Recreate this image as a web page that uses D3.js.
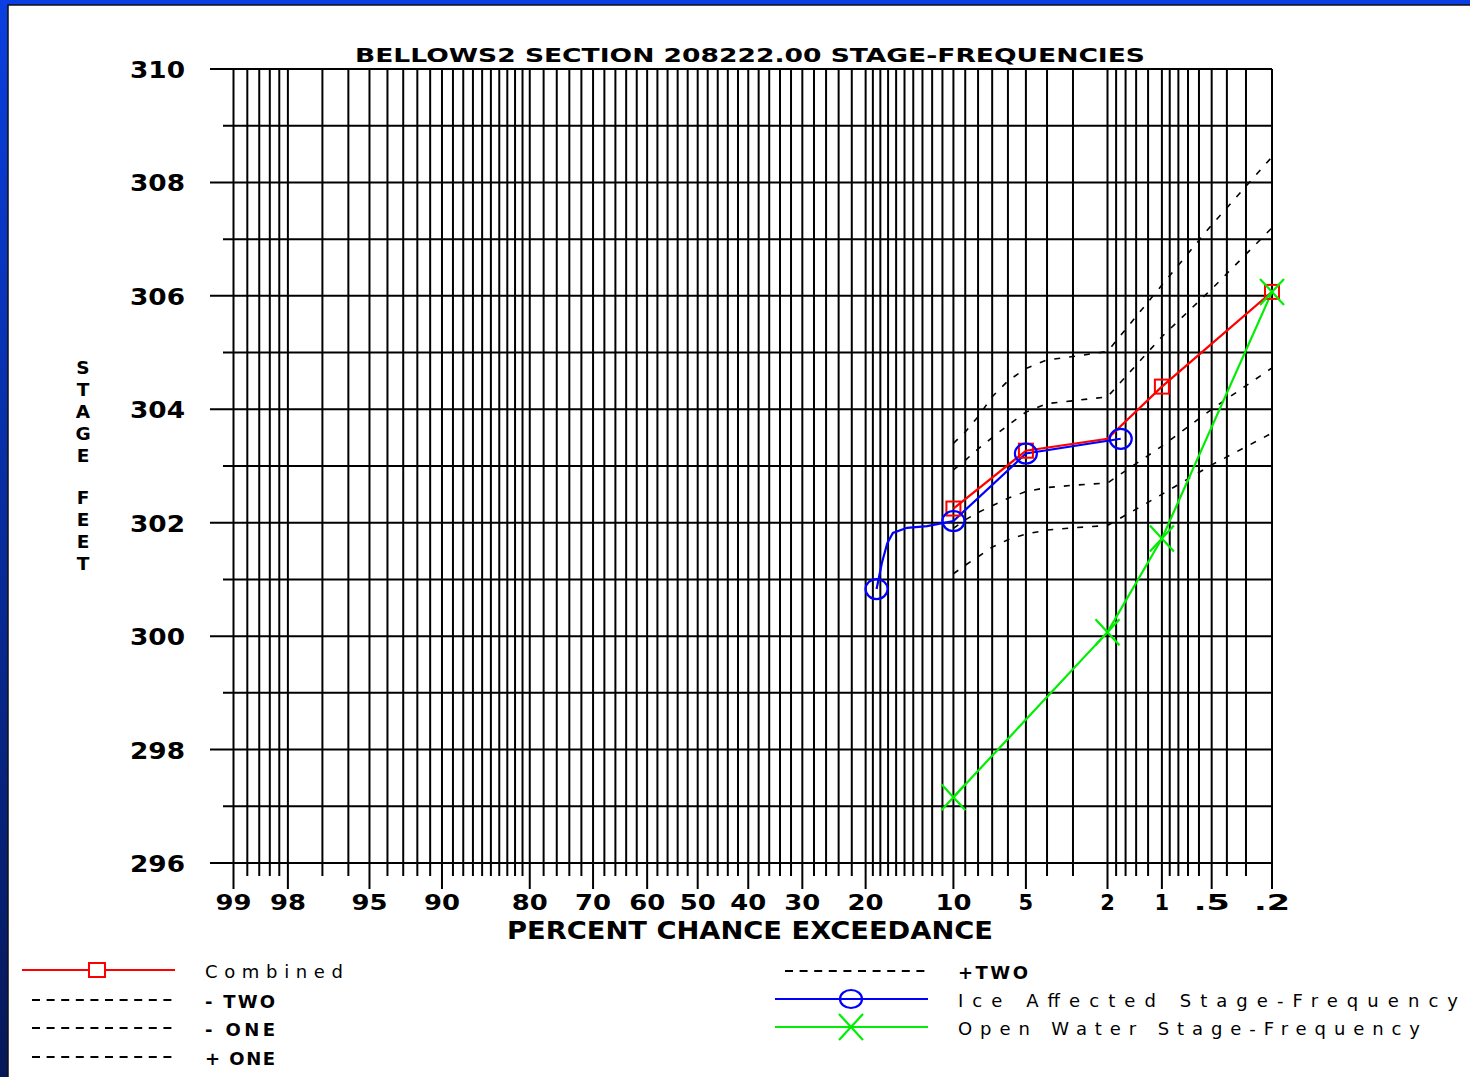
<!DOCTYPE html>
<html>
<head>
<meta charset="utf-8">
<script src="https://cdn.jsdelivr.net/npm/d3@7"></script>
<style>
body { margin: 0; background: #fff; overflow: hidden; }
svg text { font-family: "DejaVu Sans", "Liberation Sans", sans-serif; }
</style>
</head>
<body>
<div id="chart"></div>
<script>
// stage-frequency plot on a normal probability (exceedance) axis
var titleText = "BELLOWS2  SECTION  208222.00  STAGE-FREQUENCIES";
var xTitleText = "PERCENT  CHANCE  EXCEEDANCE";
var yTitleLetters = ["S", "T", "A", "G", "E", "F", "E", "E", "T"];

// vertical grid lines (percent chance exceedance)
var gridPct = [99, 98.8, 98.6, 98.4, 98.2, 98, 97, 96, 95, 94, 93, 92, 91, 90,
    89, 88, 87, 86, 85, 84, 83, 82, 81, 80, 78, 76, 74, 72, 70, 68, 66, 64, 62, 60,
    58, 56, 54, 52, 50, 48, 46, 44, 42, 40, 38, 36, 34, 32, 30, 28, 26, 24, 22, 20,
    19, 18, 17, 16, 15, 14, 13, 12, 11, 10, 9, 8, 7, 6, 5, 4, 3, 2,
    1.8, 1.6, 1.4, 1.2, 1, 0.9, 0.8, 0.7, 0.6, 0.5, 0.4, 0.3, 0.2];
var labelPct = [99, 98, 95, 90, 80, 70, 60, 50, 40, 30, 20, 10, 5, 2, 1, 0.5, 0.2];
var labelText = ["99", "98", "95", "90", "80", "70", "60", "50", "40", "30", "20", "10", "5", "2", "1", ".5", ".2"];

// stage (feet)
var stageGrid = [296, 297, 298, 299, 300, 301, 302, 303, 304, 305, 306, 307, 308, 309, 310];
var stageLabels = [296, 298, 300, 302, 304, 306, 308, 310];

// Combined
var combinedPct = [10, 5, 2, 1, 0.2];
var combinedStage = [302.25, 303.27, 303.48, 304.4, 306.07];
var combinedMark = [1, 1, 0, 1, 1];

// Ice Affected Stage-Frequency
var icePct = [18.5, 17.8, 17.1, 16.4, 14.7, 12.5, 10, 5, 1.7];
var iceStage = [300.83, 301.29, 301.64, 301.82, 301.91, 301.94, 302.03, 303.22, 303.48];
var iceMark = [1, 0, 0, 0, 0, 0, 1, 1, 1];

// Open Water Stage-Frequency
var openPct = [10, 2, 1, 0.2];
var openStage = [297.16, 300.07, 301.72, 306.07];

// confidence limits
var confPct = [10, 9, 8, 7, 6, 5, 4, 3, 2, 1, 0.5, 0.2];
var plusTwo = [303.4, 303.6, 303.87, 304.22, 304.5, 304.72, 304.87, 304.93, 305.02, 306.19, 307.25, 308.45];
var plusOne = [302.93, 303.1, 303.3, 303.5, 303.72, 303.95, 304.1, 304.15, 304.22, 305.28, 306.12, 307.2];
var minusOne = [301.9, 302.05, 302.18, 302.3, 302.43, 302.55, 302.62, 302.66, 302.7, 303.35, 304.0, 304.73];
var minusTwo = [301.1, 301.25, 301.4, 301.57, 301.7, 301.8, 301.87, 301.91, 301.95, 302.5, 303.02, 303.58];

var W = 1470, H = 1077;
var margin = { top: 69, right: 198, bottom: 214, left: 210 };
var plotW = W - margin.left - margin.right,
    plotH = H - margin.top - margin.bottom;

// inverse normal cdf (Acklam)
function normInv(p) {
    var a = [-3.969683028665376e+01, 2.209460984245205e+02, -2.759285104469687e+02, 1.383577518672690e+02, -3.066479806614716e+01, 2.506628277459239e+00];
    var b = [-5.447609879822406e+01, 1.615858368580409e+02, -1.556989798598866e+02, 6.680131188771972e+01, -1.328068155288572e+01];
    var c = [-7.784894002430293e-03, -3.223964580411365e-01, -2.400758277161838e+00, -2.549732539343734e+00, 4.374664141464968e+00, 2.938163982698783e+00];
    var d = [7.784695709041462e-03, 3.224671290700398e-01, 2.445134137142996e+00, 3.754408661907416e+00];
    var pl = 0.02425, q, r;
    if (p < pl) {
        q = Math.sqrt(-2 * Math.log(p));
        return (((((c[0] * q + c[1]) * q + c[2]) * q + c[3]) * q + c[4]) * q + c[5]) / ((((d[0] * q + d[1]) * q + d[2]) * q + d[3]) * q + 1);
    }
    if (p <= 1 - pl) {
        q = p - 0.5; r = q * q;
        return (((((a[0] * r + a[1]) * r + a[2]) * r + a[3]) * r + a[4]) * r + a[5]) * q / (((((b[0] * r + b[1]) * r + b[2]) * r + b[3]) * r + b[4]) * r + 1);
    }
    q = Math.sqrt(-2 * Math.log(1 - p));
    return -(((((c[0] * q + c[1]) * q + c[2]) * q + c[3]) * q + c[4]) * q + c[5]) / ((((d[0] * q + d[1]) * q + d[2]) * q + d[3]) * q + 1);
}
function zOf(pct) { return normInv(1 - pct / 100); }

var xz = d3.scaleLinear()
    .domain([zOf(99), zOf(0.2)])
    .range([23.5, plotW]);
function x(pct) { return xz(zOf(pct)); }

var y = d3.scaleLinear()
    .domain([296, 310])
    .range([plotH, 0]);

var svg = d3.select("#chart").append("svg")
    .attr("width", W)
    .attr("height", H);

// slide frame
var defs = svg.append("defs");
var grad = defs.append("linearGradient").attr("id", "side")
    .attr("x1", 0).attr("y1", 0).attr("x2", 0).attr("y2", 1);
grad.append("stop").attr("offset", "0%").attr("stop-color", "#0a3fe0");
grad.append("stop").attr("offset", "100%").attr("stop-color", "#061858");
svg.append("rect").attr("width", W).attr("height", H).attr("fill", "url(#side)");
svg.append("rect").attr("width", W).attr("height", 5).attr("fill", "#0c3ee6");
svg.append("rect").attr("x", 8).attr("y", 5).attr("width", W).attr("height", H)
    .attr("fill", "#fff").attr("stroke", "#111").attr("stroke-width", 1.5);

var g = svg.append("g").attr("transform", "translate(" + margin.left + "," + margin.top + ")");

// horizontal grid
g.append("g").selectAll("line")
    .data(stageGrid)
    .enter().append("line")
    .attr("x1", function (d) { return stageLabels.indexOf(d) >= 0 ? 0 : 13; })
    .attr("x2", plotW)
    .attr("y1", function (d) { return y(d); })
    .attr("y2", function (d) { return y(d); })
    .attr("stroke", "#000")
    .attr("stroke-width", 2);

// vertical grid
g.append("g").selectAll("line")
    .data(gridPct)
    .enter().append("line")
    .attr("x1", function (d) { return x(d); })
    .attr("x2", function (d) { return x(d); })
    .attr("y1", 0)
    .attr("y2", function (d) { return plotH + (labelPct.indexOf(d) >= 0 ? 26 : 13); })
    .attr("stroke", "#000")
    .attr("stroke-width", 2);

// y labels
g.append("g").selectAll("text")
    .data(stageLabels)
    .enter().append("text")
    .attr("x", -25)
    .attr("y", function (d) { return y(d) + 9; })
    .attr("text-anchor", "end")
    .attr("font-size", 23)
    .attr("font-weight", "bold")
    .attr("textLength", 55)
    .attr("lengthAdjust", "spacingAndGlyphs")
    .text(function (d) { return d; });

// x labels
g.append("g").selectAll("text")
    .data(labelPct)
    .enter().append("text")
    .attr("x", function (d) { return x(d); })
    .attr("y", plotH + 47)
    .attr("text-anchor", "middle")
    .attr("font-size", 21)
    .attr("font-weight", "bold")
    .text(function (d, i) { return labelText[i]; })
    .each(function (d, i) {
        if (labelText[i].length == 2) {
            d3.select(this).attr("textLength", 36).attr("lengthAdjust", "spacingAndGlyphs");
        }
    });

// titles
svg.append("text")
    .attr("x", 355).attr("y", 62)
    .attr("font-size", 19)
    .attr("font-weight", "bold")
    .attr("textLength", 790)
    .attr("lengthAdjust", "spacingAndGlyphs")
    .text(titleText);

svg.append("text")
    .attr("x", 507).attr("y", 939)
    .attr("font-size", 24)
    .attr("font-weight", "bold")
    .attr("textLength", 486)
    .attr("lengthAdjust", "spacingAndGlyphs")
    .text(xTitleText);

var yTitleY = [367, 389, 411, 433, 455, 497, 519, 541, 563];
svg.append("g").selectAll("text")
    .data(yTitleLetters)
    .enter().append("text")
    .attr("x", 83)
    .attr("y", function (d, i) { return yTitleY[i] + 7; })
    .attr("text-anchor", "middle")
    .attr("font-size", 18.5)
    .attr("font-weight", "bold")
    .text(function (d) { return d; });

// confidence curves
var line = d3.line()
    .x(function (d) { return x(d[0]); })
    .y(function (d) { return y(d[1]); });
[plusTwo, plusOne, minusOne, minusTwo].forEach(function (s) {
    g.append("path")
        .datum(confPct.map(function (p, i) { return [p, s[i]]; }))
        .attr("d", line)
        .attr("fill", "none")
        .attr("stroke", "#000")
        .attr("stroke-width", 1.6)
        .attr("stroke-dasharray", "6,9");
});

function drawSeries(pcts, stages, color) {
    g.append("path")
        .datum(pcts.map(function (p, i) { return [p, stages[i]]; }))
        .attr("d", line)
        .attr("fill", "none")
        .attr("stroke", color)
        .attr("stroke-width", 2.2);
}

drawSeries(openPct, openStage, "#00ee00");
drawSeries(combinedPct, combinedStage, "#ff0000");
drawSeries(icePct, iceStage, "#0000ff");

// markers
g.append("g").selectAll("rect")
    .data(combinedPct.filter(function (d, i) { return combinedMark[i]; }))
    .enter().append("rect")
    .attr("x", function (d) { return x(d) - 7; })
    .attr("y", function (d) { return y(combinedStage[combinedPct.indexOf(d)]) - 7; })
    .attr("width", 14).attr("height", 14)
    .attr("fill", "none").attr("stroke", "#ff0000").attr("stroke-width", 2);

g.append("g").selectAll("ellipse")
    .data(icePct.filter(function (d, i) { return iceMark[i]; }))
    .enter().append("ellipse")
    .attr("cx", function (d) { return x(d); })
    .attr("cy", function (d) { return y(iceStage[icePct.indexOf(d)]); })
    .attr("rx", 11).attr("ry", 10)
    .attr("fill", "none").attr("stroke", "#0000ff").attr("stroke-width", 2.2);

var crossPath = "M-12,-13L12,13M-12,13L12,-13";
g.append("g").selectAll("path")
    .data(openPct)
    .enter().append("path")
    .attr("transform", function (d, i) { return "translate(" + x(d) + "," + y(openStage[i]) + ")"; })
    .attr("d", crossPath)
    .attr("fill", "none").attr("stroke", "#00ee00").attr("stroke-width", 2.2);

// legend
var legendItems = [
    { x: 22, x2: 175, y: 970, tx: 205, text: "Combined", len: 138, kind: "combined", bold: false },
    { x: 32, x2: 175, y: 1000, tx: 205, text: "- TWO", len: 70, kind: "dash", bold: true },
    { x: 32, x2: 175, y: 1028, tx: 205, text: "- ONE", len: 70, kind: "dash", bold: true },
    { x: 32, x2: 175, y: 1057, tx: 205, text: "+ ONE", len: 70, kind: "dash", bold: true },
    { x: 785, x2: 928, y: 971, tx: 958, text: "+TWO", len: 70, kind: "dash", bold: true },
    { x: 775, x2: 928, y: 999, tx: 958, text: "Ice Affected Stage-Frequency", len: 500, kind: "ice", bold: false },
    { x: 775, x2: 928, y: 1027, tx: 958, text: "Open Water Stage-Frequency", len: 462, kind: "open", bold: false }
];
var legColor = { combined: "#ff0000", dash: "#000", ice: "#0000ff", open: "#00ee00" };

var leg = svg.append("g").selectAll("g")
    .data(legendItems)
    .enter().append("g");

leg.append("line")
    .attr("x1", function (d) { return d.x; })
    .attr("x2", function (d) { return d.x2; })
    .attr("y1", function (d) { return d.y; })
    .attr("y2", function (d) { return d.y; })
    .attr("stroke", function (d) { return legColor[d.kind]; })
    .attr("stroke-width", function (d) { return d.kind == "dash" ? 1.8 : 2; })
    .attr("stroke-dasharray", function (d) { return d.kind == "dash" ? "8,6.6" : null; });

leg.append("text")
    .attr("x", function (d) { return d.tx; })
    .attr("y", function (d) { return d.y + 8; })
    .attr("font-size", 18)
    .attr("font-weight", function (d) { return d.bold ? "bold" : "normal"; })
    .attr("textLength", function (d) { return d.len; })
    .attr("lengthAdjust", "spacing")
    .text(function (d) { return d.text; });

leg.filter(function (d) { return d.kind == "combined"; }).append("rect")
    .attr("x", 97 - 8).attr("y", function (d) { return d.y - 7; })
    .attr("width", 16).attr("height", 14)
    .attr("fill", "#fff").attr("stroke", "#ff0000").attr("stroke-width", 2);
leg.filter(function (d) { return d.kind == "ice"; }).append("ellipse")
    .attr("cx", 851).attr("cy", function (d) { return d.y; })
    .attr("rx", 11).attr("ry", 9)
    .attr("fill", "none").attr("stroke", "#0000ff").attr("stroke-width", 2.2);
leg.filter(function (d) { return d.kind == "open"; }).append("path")
    .attr("transform", function (d) { return "translate(851," + d.y + ")"; })
    .attr("d", crossPath)
    .attr("fill", "none").attr("stroke", "#00ee00").attr("stroke-width", 2.2);
</script>
</body>
</html>
